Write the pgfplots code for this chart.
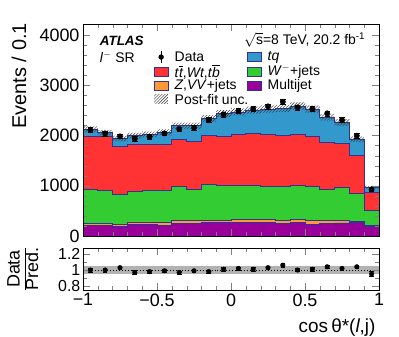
\documentclass[border=0pt]{standalone}
\usepackage{fontspec}
\setmainfont{Liberation Sans}
\usepackage{pgfplots}
\usepackage{pgfplotstable}
\pgfplotsset{compat=1.18}
\usetikzlibrary{patterns}

\definecolor{tqblue}{RGB}{51,153,204}
\definecolor{ttred}{RGB}{255,51,51}
\definecolor{wgreen}{RGB}{51,204,51}
\definecolor{zorange}{RGB}{255,153,51}
\definecolor{mjpurple}{RGB}{153,0,153}
\definecolor{edge}{RGB}{50,50,150}

% cumulative stack tops per bin (left edge), last row repeats the last bin
\pgfplotstableread{
x    mj  zvv  w    tt   tot
-1.0 206 252  935  1990 2123
-0.9 206 252  915  1977 2056
-0.8 192 232  829  1791 1937
-0.7 232 279  895  1824 1997
-0.6 226 279  915  1831 2023
-0.5 219 265  915  1831 2063
-0.4 252 305  995  1924 2195
-0.3 252 305  935  1884 2195
-0.2 265 318  1028 2004 2342
-0.1 265 318  1015 1990 2440
0.0  265 332  1015 2023 2470
0.1  272 338  1015 2036 2507
0.2  272 332  995  2023 2527
0.3  252 318  981  2010 2540
0.4  265 332  1001 2023 2587
0.5  226 305  981  1977 2527
0.6  252 312  935  1871 2362
0.7  259 312  961  1844 2262
0.8  272 298  849  1606 1924
0.9  192 215  517  862  969
1.0  192 215  517  862  969
}\stack

% post-fit uncertainty band: upper edge left to right, lower edge right to left
\pgfplotstableread{
x    y
-1.0 2183
-0.9 2114
-0.8 1991
-0.7 2053
-0.6 2080
-0.5 2121
-0.4 2256
-0.3 2256
-0.2 2408
-0.1 2508
0.0  2539
0.1  2577
0.2  2598
0.3  2611
0.4  2659
0.5  2598
0.6  2428
0.7  2325
0.8  1978
0.9  996
1.0  996
1.0  942
0.9  1870
0.8  2199
0.7  2296
0.6  2456
0.5  2515
0.4  2469
0.3  2456
0.2  2437
0.1  2401
0.0  2372
-0.1 2276
-0.2 2134
-0.3 2134
-0.4 2005
-0.5 1966
-0.6 1941
-0.7 1883
-0.8 1998
-0.9 2063
-1.0 2063
}\band

\pgfplotstableread{
x     y    e  r    re
-0.95 2110 46 1.00 0.022
-0.85 2040 45 1.00 0.022
-0.75 1983 45 1.03 0.023
-0.65 1937 44 0.97 0.022
-0.55 1977 44 0.98 0.022
-0.45 2043 45 0.99 0.022
-0.35 2129 46 0.97 0.021
-0.25 2156 46 0.99 0.021
-0.15 2308 48 0.98 0.021
-0.05 2420 49 1.01 0.020
0.05  2494 50 1.02 0.020
0.15  2527 50 1.01 0.020
0.25  2580 51 1.03 0.020
0.35  2673 52 1.06 0.020
0.45  2560 51 1.00 0.020
0.55  2527 50 1.01 0.020
0.65  2441 49 1.04 0.021
0.75  2308 48 1.02 0.021
0.85  1997 45 1.04 0.023
0.95  929  30 0.95 0.031
}\data

\begin{document}
\begin{tikzpicture}
\useasboundingbox (-83bp,24bp) rectangle (316bp,-313bp);
\pgfplotsset{
  every tick label/.append style={font=\fontsize{18}{18}\selectfont},
  /pgf/number format/assume math mode=true,
  /pgf/number format/1000 sep={},
}
\begin{axis}[
    name=main, at={(0,0)}, anchor=north west,
    scale only axis, width=296bp, height=212bp,
    xmin=-1, xmax=1, ymin=0, ymax=4220,
    xtick={-1,-0.5,0,0.5,1}, xticklabel=\empty, minor x tick num=4,
    ytick={0,1000,2000,3000,4000}, minor y tick num=4,
    scaled y ticks=false,
    tick align=inside, tick pos=both,
    major tick length=7bp, minor tick length=4bp,
    axis on top,
    ylabel={Events / 0.1},
    ylabel style={at={(axis description cs:-0.253,1.02)}, anchor=north east,
      font=\fontsize{20}{20}\selectfont},
]
\addplot[const plot, fill=tqblue, draw=edge, line width=0.7pt] table[x=x,y=tot]{\stack} \closedcycle;
\addplot[const plot, fill=ttred, draw=edge, line width=0.7pt] table[x=x,y=tt]{\stack} \closedcycle;
\addplot[const plot, fill=wgreen, draw=edge, line width=0.7pt] table[x=x,y=w]{\stack} \closedcycle;
\addplot[const plot, fill=zorange, draw=edge, line width=0.7pt] table[x=x,y=zvv]{\stack} \closedcycle;
\addplot[const plot, fill=mjpurple, draw=edge, line width=0.7pt] table[x=x,y=mj]{\stack} \closedcycle;

\addplot[const plot, pattern=north east lines, pattern color=black!80, draw=none] table[x=x,y=y]{\band} -- cycle;

\addplot[only marks, mark=*, mark size=2.7bp, black,
  error bars/.cd, y dir=both, y explicit, error bar style={line width=0.8pt}]
  table[x=x,y=y,y error=e]{\data};

% annotations and legend
\node[anchor=west, font=\fontsize{13.5}{14}\selectfont\bfseries\itshape] at (axis description cs:0.045,0.92) {ATLAS};
\node[anchor=west, font=\fontsize{14}{14}\selectfont] at (axis description cs:0.045,0.844) {\textit{l}\textsuperscript{$-$} SR};
\node[anchor=east, font=\fontsize{14}{14}\selectfont] at (axis description cs:0.965,0.925) {$\sqrt{\mbox{s}}$=8 TeV, 20.2 fb\textsuperscript{-1}};

\draw[black, line width=0.8pt] (axis description cs:0.264,0.815) -- (axis description cs:0.264,0.873);
\fill[black] (axis description cs:0.264,0.844) circle (2.7bp);
\node[anchor=west, font=\fontsize{14}{14}\selectfont] at (axis description cs:0.298,0.844) {Data};

\draw[edge, fill=ttred] (axis description cs:0.240,0.753) rectangle (axis description cs:0.287,0.795);
\node[anchor=west, font=\fontsize{14}{14}\selectfont] at (axis description cs:0.298,0.774) {\textit{t}$\overline{\mbox{\itshape t}}$,\textit{Wt},\textit{t}$\overline{\mbox{\itshape b}}$};

\draw[edge, fill=zorange] (axis description cs:0.240,0.687) rectangle (axis description cs:0.287,0.729);
\node[anchor=west, font=\fontsize{14}{14}\selectfont] at (axis description cs:0.298,0.708) {\textit{Z},\textit{VV}+jets};

\fill[pattern=north east lines, pattern color=black!80] (axis description cs:0.240,0.625) rectangle (axis description cs:0.287,0.667);
\node[anchor=west, font=\fontsize{14}{14}\selectfont] at (axis description cs:0.298,0.646) {Post-fit unc.};

\draw[edge, fill=tqblue] (axis description cs:0.554,0.823) rectangle (axis description cs:0.603,0.865);
\node[anchor=west, font=\fontsize{14}{14}\selectfont] at (axis description cs:0.612,0.844) {\textit{tq}};

\draw[edge, fill=wgreen] (axis description cs:0.554,0.753) rectangle (axis description cs:0.603,0.795);
\node[anchor=west, font=\fontsize{14}{14}\selectfont] at (axis description cs:0.612,0.774) {\textit{W}\textsuperscript{$-$}+jets};

\draw[edge, fill=mjpurple] (axis description cs:0.554,0.687) rectangle (axis description cs:0.603,0.729);
\node[anchor=west, font=\fontsize{14}{14}\selectfont] at (axis description cs:0.612,0.708) {Multijet};
\end{axis}

\begin{axis}[
    name=ratio, at={(0,-224bp)}, anchor=north west,
    scale only axis, width=296bp, height=42bp,
    xmin=-1, xmax=1, ymin=0.75, ymax=1.275,
    xtick={-1,-0.5,0,0.5,1}, xticklabels={−1,−0.5,0,0.5,1}, minor x tick num=4,
    ytick={0.8,1,1.2}, yticklabels={0.8,1,1.2}, minor y tick num=1,
    yticklabel style={font=\fontsize{16}{16}\selectfont, inner ysep=0pt, inner xsep=2.5bp},
    tick align=inside, tick pos=both,
    major tick length=7bp, minor tick length=4bp,
    axis on top,
    xlabel={cos\,θ*(\textit{l},j)},
    xlabel style={at={(axis description cs:1.0,-0.6)}, anchor=north east,
      font=\fontsize{19}{19}\selectfont},
    ylabel={\renewcommand\arraystretch{0.95}\begin{tabular}{@{}c@{}}Data\\\hline Pred.\end{tabular}},
    ylabel style={at={(axis description cs:-0.195,0.5)}, anchor=center,
      font=\fontsize{18}{18}\selectfont},
]
\addplot[fill=black!30, draw=none] coordinates {(-1,0.95) (1,0.95) (1,1.05) (-1,1.05)} -- cycle;
\addplot[black, dotted, line width=1pt] coordinates {(-1,1) (1,1)};
\addplot[only marks, mark=*, mark size=2.3bp, black,
  error bars/.cd, y dir=both, y explicit]
  table[x=x,y=r,y error=re]{\data};
\end{axis}
\end{tikzpicture}
\end{document}
